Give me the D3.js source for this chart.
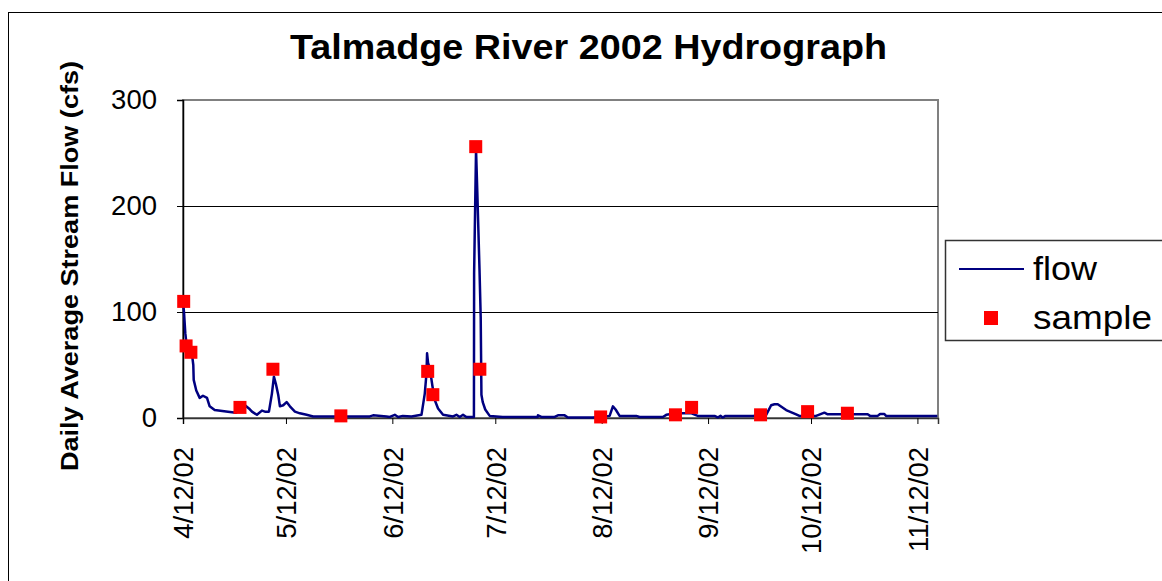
<!DOCTYPE html>
<html>
<head>
<meta charset="utf-8">
<script src="https://cdn.jsdelivr.net/npm/d3@7"></script>
<style>
  html, body { margin: 0; padding: 0; background: #fff; }
  svg { display: block; font-family: "Liberation Sans", Arial, sans-serif; }
</style>
</head>
<body>
<svg id="chart" width="1162" height="581"></svg>
<script>
// ---- data ----
const startDate = "2002-04-12";
const endDate = "2002-11-18";
const tickLabels = ["4/12/02", "5/12/02", "6/12/02", "7/12/02", "8/12/02", "9/12/02", "10/12/02", "11/12/02"];
const yTicks = [0, 100, 200, 300];

// flow: days since 4/12/02 and daily average stream flow (cfs)
const flowDay = [0.00, 0.29, 0.67, 1.02, 1.95, 2.62, 3.00, 3.12, 3.87, 4.86, 5.82, 6.99, 7.77, 9.23, 13.10, 15.43,
  16.89, 18.05, 19.21, 20.09, 21.54, 23.00, 23.87, 25.04, 25.91, 26.49, 27.07, 27.74, 28.24, 29.20, 30.19, 31.15,
  32.61, 34.06, 36.01, 37.93, 44.75, 48.62, 54.44, 55.40, 59.30, 60.26, 61.72, 62.68, 64.05, 66.58, 69.49, 70.45,
  70.95, 71.12, 71.41, 71.91, 72.69, 73.36, 74.32, 75.78, 78.69, 79.68, 80.64, 81.60, 82.59, 84.77, 84.83, 85.39,
  85.74, 86.40, 86.75, 86.96, 87.34, 88.07, 89.37, 93.16, 103.35, 103.44, 104.42, 108.30, 109.26, 111.21, 112.17,
  119.36, 121.40, 124.31, 125.27, 126.06, 127.22, 132.08, 133.04, 139.83, 140.82, 141.78, 145.65, 148.18, 150.00,
  154.87, 155.83, 156.62, 157.28, 158.07, 166.03, 169.93, 171.38, 172.34, 173.30, 175.75, 178.66, 179.62, 184.48,
  186.90, 187.86, 199.51, 200.20, 202.42, 203.12, 204.37, 204.86, 219.80];
const flowCfs = [110, 100, 80, 70, 65, 60, 50, 36, 26, 19, 21, 19, 11, 7.5, 6, 5,
  9, 12, 9, 6, 3, 7, 6, 6, 23, 39, 32, 22, 11, 12, 15, 11,
  6, 4.4, 3, 1.5, 1.5, 1.5, 1.5, 2.5, 1.5, 1, 3, 1, 2, 1.5, 3, 23,
  42, 61, 52, 47, 30, 17, 9, 3, 1.5, 3, 1, 3, 1, 1, 137, 253,
  215, 140, 95, 22, 15, 8, 2, 1, 1, 2.5, 1, 1, 2.5, 2.5, 0.5,
  0.5, 1, 2, 11, 8, 2, 2, 1, 1, 3, 3.5, 4.4, 4.4, 2,
  2, 0.5, 2, 0.5, 2, 2, 3, 12, 13, 13, 7.5, 3.5, 2, 2,
  5, 3.5, 3.5, 2, 2, 3.8, 3.8, 2, 2];

// samples
const sampleDay = [0.2, 0.9, 2.3, 16.6, 26.2, 46.0, 71.3, 72.8, 85.3, 86.5, 121.7, 143.5, 148.2, 168.3, 182.0, 193.6];
const sampleCfs = [110, 68, 62, 10, 46, 2, 44, 22, 256, 46, 1, 3, 10, 3, 6, 4.5];

// ---- layout ----
const svg = d3.select("#chart");
const W = 1162, H = 581;
const plot = { left: 183, top: 100, right: 938, bottom: 418 };
const parse = d3.timeParse("%Y-%m-%d");
const t0 = parse(startDate);
const dayToDate = d => new Date(t0.getTime() + d * 864e5);

const x = d3.scaleTime().domain([t0, parse(endDate)]).range([plot.left, plot.right]);
const y = d3.scaleLinear().domain([0, 300]).range([plot.bottom, plot.top]);

svg.append("rect").attr("x", 0).attr("y", 0).attr("width", W).attr("height", H).attr("fill", "#fff");
// chart border
svg.append("rect").attr("x", 8.5).attr("y", 12.5).attr("width", 1170).attr("height", 600)
  .attr("fill", "none").attr("stroke", "#000").attr("stroke-width", 1);

// title
svg.append("text").attr("x", 588.5).attr("y", 59).attr("text-anchor", "middle")
  .attr("font-size", 35).attr("font-weight", "bold")
  .attr("textLength", 597).attr("lengthAdjust", "spacingAndGlyphs")
  .text("Talmadge River 2002 Hydrograph");

// plot area border (gray)
svg.append("rect").attr("x", plot.left).attr("y", plot.top)
  .attr("width", plot.right - plot.left).attr("height", plot.bottom - plot.top)
  .attr("fill", "none").attr("stroke", "#808080").attr("stroke-width", 2);

// gridlines
svg.append("g").selectAll("line").data(yTicks.filter(v => v > 0 && v < 300)).join("line")
  .attr("x1", plot.left).attr("x2", plot.right)
  .attr("y1", d => Math.round(y(d)) + 0.5).attr("y2", d => Math.round(y(d)) + 0.5)
  .attr("stroke", "#000").attr("stroke-width", 1);

// y axis
const yAxis = svg.append("g").attr("transform", `translate(${plot.left},0)`)
  .call(d3.axisLeft(y).tickValues(yTicks).tickSize(6).tickPadding(20).tickFormat(d3.format("d")));
yAxis.select(".domain").attr("stroke", "#000").attr("stroke-width", 1.5);
yAxis.selectAll("text").attr("font-size", 27.5).attr("font-family", "Liberation Sans, Arial, sans-serif").attr("fill", "#000");

// x axis
const xTickDates = tickLabels.map(s => d3.timeParse("%-m/%-d/%y")(s));
const xAxis = svg.append("g").attr("transform", `translate(0,${plot.bottom})`)
  .call(d3.axisBottom(x).tickValues(xTickDates).tickSize(6).tickFormat((d, i) => tickLabels[i]));
xAxis.select(".domain").attr("stroke", "#333").attr("stroke-width", 1.5);
xAxis.selectAll("text")
  .attr("font-size", 27.5).attr("font-family", "Liberation Sans, Arial, sans-serif").attr("fill", "#000")
  .attr("transform", "rotate(-90)")
  .attr("text-anchor", "end")
  .attr("x", -29).attr("y", 0).attr("dy", "0.36em");

// y title
svg.append("text").attr("transform", "translate(78,266) rotate(-90)")
  .attr("text-anchor", "middle").attr("font-size", 24).attr("font-weight", "bold")
  .attr("textLength", 410).attr("lengthAdjust", "spacingAndGlyphs")
  .text("Daily Average Stream Flow (cfs)");

// flow line
const flowData = flowDay.map((d, i) => ({ date: dayToDate(d), v: flowCfs[i] }));
svg.append("path").datum(flowData)
  .attr("fill", "none").attr("stroke", "#000080").attr("stroke-width", 2.5).attr("stroke-linejoin", "round")
  .attr("d", d3.line().x(d => x(d.date)).y(d => y(d.v)));

// samples
const sz = 13;
svg.append("g").selectAll("rect").data(sampleDay.map((d, i) => ({ date: dayToDate(d), v: sampleCfs[i] }))).join("rect")
  .attr("x", d => x(d.date) - sz / 2).attr("y", d => y(d.v) - sz / 2)
  .attr("width", sz).attr("height", sz).attr("fill", "#ff0000");

// legend
const lg = svg.append("g");
lg.append("rect").attr("x", 945.5).attr("y", 240.5).attr("width", 240).attr("height", 100)
  .attr("fill", "#fff").attr("stroke", "#333").attr("stroke-width", 1.5);
lg.append("line").attr("x1", 959).attr("x2", 1024).attr("y1", 269).attr("y2", 269)
  .attr("stroke", "#000080").attr("stroke-width", 2);
lg.append("text").attr("x", 1033).attr("y", 280).attr("font-size", 34)
  .attr("textLength", 64).attr("lengthAdjust", "spacingAndGlyphs").text("flow");
lg.append("rect").attr("x", 991 - 7).attr("y", 318 - 7).attr("width", 14).attr("height", 14).attr("fill", "#ff0000");
lg.append("text").attr("x", 1033).attr("y", 329).attr("font-size", 34)
  .attr("textLength", 119).attr("lengthAdjust", "spacingAndGlyphs").text("sample");
</script>
</body>
</html>
